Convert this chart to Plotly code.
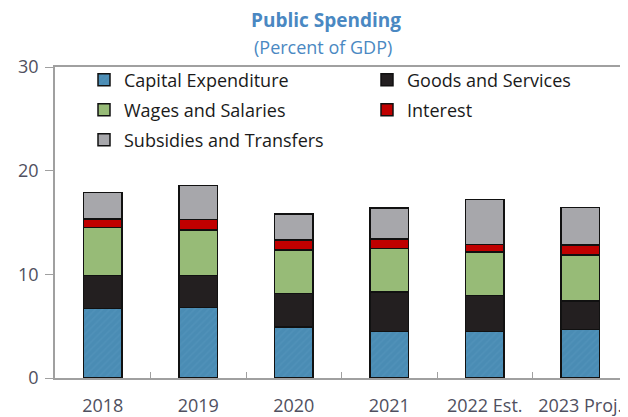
import plotly.graph_objects as go

years = ["2018", "2019", "2020", "2021", "2022 Est.", "2023 Proj."]
capital_expenditure = [6.7, 6.8, 4.9, 4.5, 4.5, 4.7]
goods_services = [3.2, 3.1, 3.25, 3.8, 3.45, 2.75]
wages_salaries = [4.6, 4.4, 4.2, 4.2, 4.2, 4.4]
interest = [0.85, 1.0, 0.95, 0.9, 0.75, 1.0]
subsidies_transfers = [2.55, 3.25, 2.5, 3.0, 4.3, 3.6]

series = [
    ("Capital Expenditure", capital_expenditure, "#4a8cb4"),
    ("Goods and Services", goods_services, "#231f20"),
    ("Wages and Salaries", wages_salaries, "#97bb77"),
    ("Interest", interest, "#c00000"),
    ("Subsidies and Transfers", subsidies_transfers, "#a7a7ab"),
]

FONT = "Open Sans, Noto Sans, sans-serif"
# the page body adds an 8px margin, so the figure is 8px smaller each way
W, H = 620, 409
L, R, T, B = 47, 0, 59, 39
plot_w, plot_h = W - L - R, H - T - B

def px_x(px):
    return (px - L) / plot_w

def px_y(py):
    return 1 - (py - T) / plot_h

# legend slot (left-edge pixel, row-centre pixel) for each series
legend_slots = [(76, 72), (359, 72), (76, 102), (359, 102), (76, 132)]

fig = go.Figure()
legends = {}
for i, ((name, vals, color), (lx, ly)) in enumerate(zip(series, legend_slots)):
    key = "legend" if i == 0 else f"legend{i + 1}"
    pattern = dict(shape="/", fgcolor="#5696bd", size=5, solidity=0.3) if i == 0 else None
    fig.add_trace(go.Bar(
        x=years, y=vals, name=name, legend=key,
        marker=dict(color=color, line=dict(color="#111111", width=1.5), pattern=pattern),
        width=0.4,
    ))
    legends[key] = dict(
        x=px_x(lx), y=px_y(ly), xanchor="left", yanchor="middle",
        orientation="h", bgcolor="rgba(0,0,0,0)", itemwidth=30,
        font=dict(family=FONT, size=18, color="#1a1a1a"),
    )

fig.update_layout(
    width=W, height=H,
    margin=dict(l=L, r=R, t=T, b=B),
    plot_bgcolor="white", paper_bgcolor="white",
    barmode="stack", showlegend=True,
    xaxis=dict(
        showline=True, linecolor="#a0a0a0", linewidth=1.5, mirror=True,
        ticks="inside", tickson="boundaries", ticklen=6, tickcolor="#a0a0a0",
        ticklabelstandoff=11, ticklabeloverflow="allow",
        tickfont=dict(family=FONT, size=18, color="#505060"),
    ),
    yaxis=dict(
        range=[0, 30], tickvals=[0, 10, 20, 30], showgrid=False, zeroline=False,
        showline=True, linecolor="#a0a0a0", linewidth=1.5,
        ticks="outside", ticklen=8, tickcolor="#a0a0a0", ticklabelstandoff=3,
        tickfont=dict(family=FONT, size=18, color="#505060"),
    ),
    annotations=[
        dict(text="<b>Public Spending</b>", x=px_x(318), y=px_y(12),
             xref="paper", yref="paper", showarrow=False,
             xanchor="center", yanchor="middle",
             font=dict(family=FONT, size=19, color="#4a88c2")),
        dict(text="(Percent of GDP)", x=px_x(315), y=px_y(39),
             xref="paper", yref="paper", showarrow=False,
             xanchor="center", yanchor="middle",
             font=dict(family=FONT, size=18, color="#4a88c2")),
    ],
    **legends,
)

fig.write_html("out.html")
